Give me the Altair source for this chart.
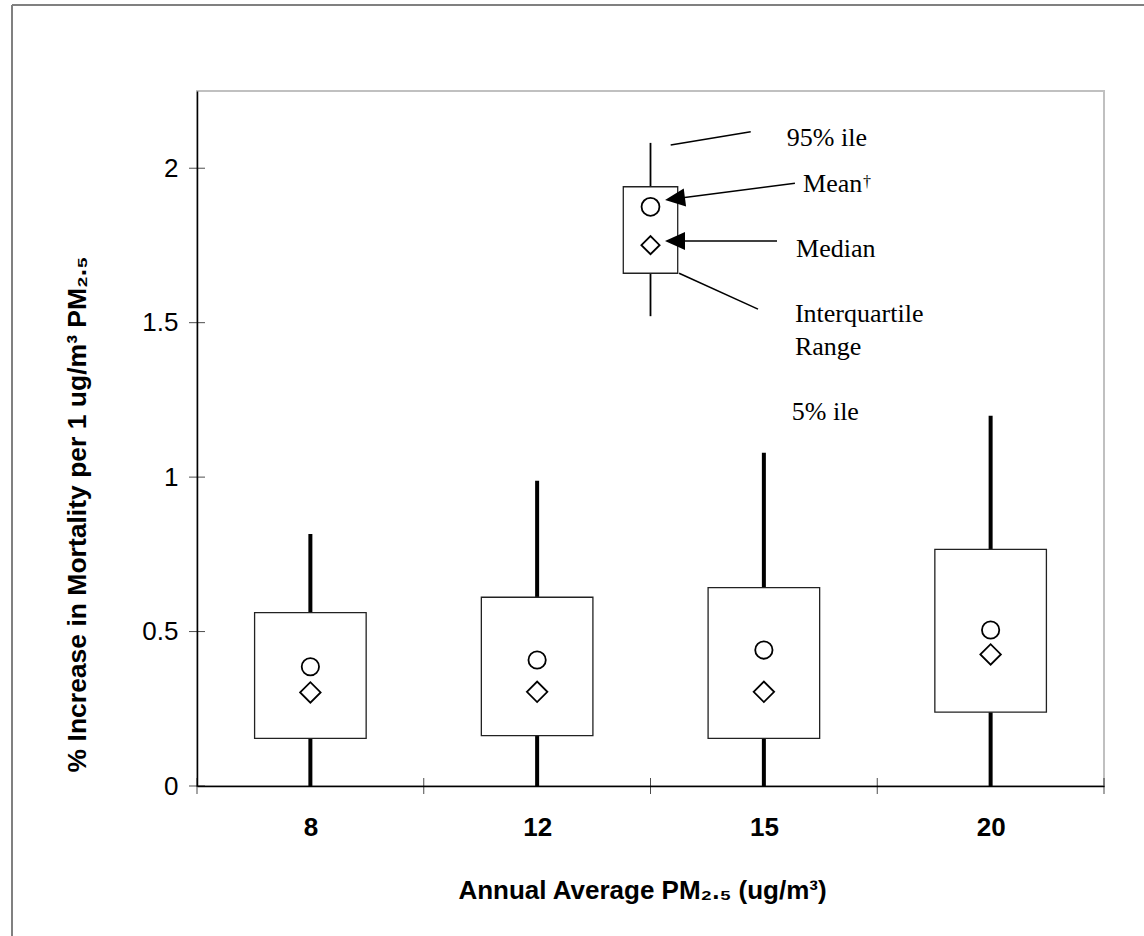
import json
import altair as alt
import pandas as pd

# ---------------- data ----------------
categories = ["8", "12", "15", "20"]
p05 = [0.0, 0.0, 0.0, 0.0]
q1 = [0.154, 0.163, 0.154, 0.239]
q3 = [0.561, 0.611, 0.642, 0.766]
p95 = [0.816, 0.988, 1.079, 1.199]
means = [0.386, 0.408, 0.440, 0.505]
medians = [0.303, 0.305, 0.305, 0.426]

y_tick_values = [0, 0.5, 1, 1.5, 2]

# explanatory key glyph (in data units)
key_x = [2.0]
key_p05 = [1.521]
key_q1 = [1.660]
key_q3 = [1.940]
key_p95 = [2.082]
key_mean = [1.875]
key_median = [1.751]

# key annotations (in data units)
ann_text = ["95% ile", "Mean", "Median", "Interquartile", "Range", "5% ile"]
ann_x = [2.601, 2.673, 2.642, 2.637, 2.637, 2.623]
ann_y = [2.099, 1.950, 1.738, 1.529, 1.421, 1.212]
dagger_x = [2.937]
dagger_y = [1.957]

lead_x = [2.089, 2.637, 2.558, 2.126]
lead_x2 = [2.442, 2.108, 2.108, 2.474]
lead_y = [2.075, 1.951, 1.764, 1.660]
lead_y2 = [2.118, 1.901, 1.764, 1.544]

arrow_x = [2.108, 2.108]
arrow_y = [1.901, 1.764]
arrow_angle = [352.5, 0]

# ---------------- tables ----------------
n = len(categories)
box_half = 0.246
pos = [i + 0.5 for i in range(n)]
boxes = pd.DataFrame({
    "cat": categories, "pos": pos,
    "left": [p - box_half for p in pos], "right": [p + box_half for p in pos],
    "p05": p05, "q1": q1, "q3": q3, "p95": p95,
    "mean": means, "median": medians,
})
key_half = 0.12
key = pd.DataFrame({
    "pos": key_x, "left": [k - key_half for k in key_x], "right": [k + key_half for k in key_x],
    "p05": key_p05, "q1": key_q1, "q3": key_q3, "p95": key_p95,
    "mean": key_mean, "median": key_median,
})
ann = pd.DataFrame({"t": ann_text, "x": ann_x, "y": ann_y})
dag = pd.DataFrame({"t": ["†"], "x": dagger_x, "y": dagger_y})
leads = pd.DataFrame({"x": lead_x, "x2": lead_x2, "y": lead_y, "y2": lead_y2})
arrows = pd.DataFrame({"x": arrow_x, "y": arrow_y, "a": arrow_angle})
yt = pd.DataFrame({"v": y_tick_values, "z": [0] * len(y_tick_values)})
xt = pd.DataFrame({"v": list(range(n + 1)), "z": [0] * (n + 1)})
frame = pd.DataFrame({"k": [0]})

SANS = "Liberation Sans"
SERIF = "Liberation Serif"

xscale = alt.Scale(domain=[0, n], nice=False, zero=False)
yscale = alt.Scale(domain=[0, 2.25], nice=False, zero=True)

label_expr = json.dumps(categories) + "[floor(datum.value)]"

x_axis = alt.Axis(
    values=[p for p in pos], labelExpr=label_expr, ticks=False, tickSize=0, grid=False,
    domainColor="black", domainWidth=1.5,
    labelFont=SANS, labelFontWeight="bold", labelFontSize=26, labelColor="black",
    labelPadding=28, labelAngle=0, labelFlush=False, labelOverlap=False,
    title="Annual Average PM₂.₅ (ug/m³)", titleFont=SANS, titleFontSize=26,
    titleFontWeight="bold", titleColor="black", titleX=445, titleY=112,
    titleAlign="center", titleBaseline="alphabetic",
)
y_axis = alt.Axis(
    values=y_tick_values, format="~g", ticks=False, tickSize=0, grid=False,
    domainColor="black", domainWidth=1.5,
    labelFont=SANS, labelFontSize=26, labelColor="black", labelPadding=19,
    labelFlush=False, labelOverlap=False,
    title="% Increase in Mortality per 1 ug/m³ PM₂.₅", titleFont=SANS,
    titleFontSize=26.5, titleFontWeight="bold", titleColor="black",
    titleX=-112, titleY=423, titleAngle=270, titleAlign="center",
    titleBaseline="alphabetic",
)


def X(field):
    return alt.X(field, type="quantitative", scale=xscale, axis=x_axis)


def Y(field):
    return alt.Y(field, type="quantitative", scale=yscale, axis=y_axis)


whisk = alt.Chart(boxes).mark_rule(color="black", strokeWidth=4).encode(
    x=X("pos"), y=Y("p05"), y2="p95:Q",
)
rects = alt.Chart(boxes).mark_rect(fill="white", stroke="#222222", strokeWidth=1.3).encode(
    x=X("left"), x2="right:Q", y=Y("q1"), y2="q3:Q",
)
mean_pts = alt.Chart(boxes).mark_point(shape="circle", size=300, filled=False,
                                       stroke="black", strokeWidth=1.8, opacity=1).encode(
    x=X("pos"), y=Y("mean"),
)
med_pts = alt.Chart(boxes).mark_point(shape="diamond", size=420, filled=False,
                                      stroke="black", strokeWidth=1.8, opacity=1).encode(
    x=X("pos"), y=Y("median"),
)

# key glyph
k_whisk = alt.Chart(key).mark_rule(color="black", strokeWidth=1.8).encode(
    x=X("pos"), y=Y("p05"), y2="p95:Q",
)
k_rect = alt.Chart(key).mark_rect(fill="white", stroke="#222222", strokeWidth=1.3).encode(
    x=X("left"), x2="right:Q", y=Y("q1"), y2="q3:Q",
)
k_mean = alt.Chart(key).mark_point(shape="circle", size=320, filled=False,
                                   stroke="black", strokeWidth=1.8, opacity=1).encode(
    x=X("pos"), y=Y("mean"),
)
k_med = alt.Chart(key).mark_point(shape="diamond", size=330, filled=False,
                                  stroke="black", strokeWidth=1.8, opacity=1).encode(
    x=X("pos"), y=Y("median"),
)
lead_lines = alt.Chart(leads).mark_rule(color="black", strokeWidth=1.5).encode(
    x=X("x"), x2="x2:Q", y=Y("y"), y2="y2:Q",
)
heads = alt.Chart(arrows).mark_point(shape="M-1,0L1,-0.9L1,0.9Z", size=400, filled=True,
                                     color="black", opacity=1).encode(
    x=X("x"), y=Y("y"), angle=alt.Angle("a:Q", scale=None),
)
labels = alt.Chart(ann).mark_text(align="left", baseline="middle", font=SERIF,
                                  fontSize=26, color="black").encode(
    x=X("x"), y=Y("y"), text="t:N",
)
dagger = alt.Chart(dag).mark_text(align="left", baseline="middle", font=SERIF,
                                  fontSize=16, color="black").encode(
    x=X("x"), y=Y("y"), text="t:N",
)

# crossing tick marks on both axes
y_ticks = alt.Chart(yt).mark_tick(orient="horizontal", size=16, thickness=1, color="black").encode(
    x=X("z"), y=Y("v"),
)
x_ticks = alt.Chart(xt).mark_tick(orient="vertical", size=16, thickness=1, color="black").encode(
    x=X("v"), y=Y("z"),
)

# outer frame (left and top edges visible in the reference)
frame_left = alt.Chart(frame).mark_rule(color="#808080", strokeWidth=2).encode(
    x=alt.value(-185), y=alt.value(-86), y2=alt.value(900),
)
frame_top = alt.Chart(frame).mark_rule(color="#808080", strokeWidth=2).encode(
    x=alt.value(-185), x2=alt.value(1000), y=alt.value(-86),
)

chart = alt.layer(
    whisk, rects, mean_pts, med_pts,
    k_whisk, k_rect, k_mean, k_med,
    lead_lines, heads, labels, dagger,
    y_ticks, x_ticks,
    frame_left, frame_top,
).properties(
    width=907, height=695,
    autosize=alt.AutoSizeParams(type="none"),
    padding={"left": 197, "top": 91, "right": 40, "bottom": 150},
    background="white",
).configure_view(
    stroke="#c0c0c0", strokeWidth=2,
)

chart.save("out.html", embed_options={"renderer": "svg", "actions": False})
